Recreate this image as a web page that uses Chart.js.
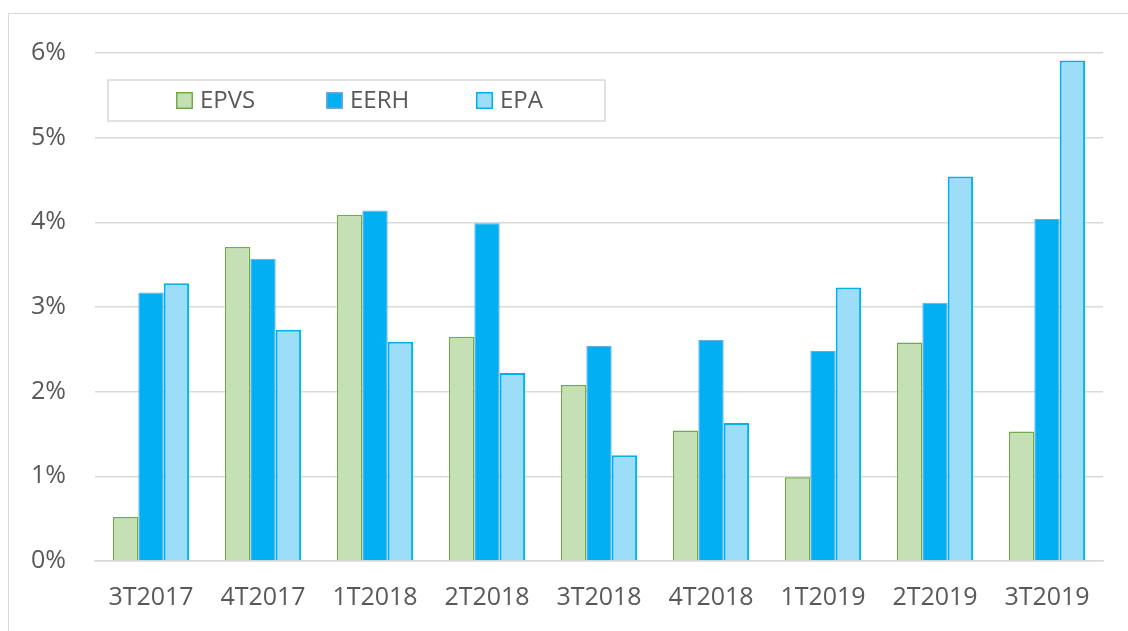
<!DOCTYPE html>
<html>
<head>
<meta charset="utf-8">
<script src="https://cdn.jsdelivr.net/npm/chart.js@4/dist/chart.umd.min.js"></script>
<style>
  html, body { margin: 0; padding: 0; background: #fff; overflow: hidden; }
  #wrap { position: relative; width: 1128px; height: 631px; }
  #frame { position: absolute; left: 8px; top: 13px; width: 1200px; height: 700px; border: 1.5px solid #d9d9d9; box-sizing: border-box; }
  canvas { position: absolute; left: 0; top: 0; }
</style>
</head>
<body>
<div id="wrap">
  <div id="frame"></div>
  <canvas id="c" width="1128" height="631"></canvas>
</div>
<script>
const categories = ['3T2017','4T2017','1T2018','2T2018','3T2018','4T2018','1T2019','2T2019','3T2019'];
const seriesNames = ['EPVS','EERH','EPA'];
const epvs = [0.52, 3.71, 4.09, 2.65, 2.08, 1.54, 0.99, 2.58, 1.53];
const eerh = [3.17, 3.57, 4.14, 3.99, 2.54, 2.61, 2.48, 3.05, 4.04];
const epa  = [3.28, 2.73, 2.59, 2.22, 1.25, 1.63, 3.23, 4.54, 5.91];
const yTicks = [0, 1, 2, 3, 4, 5, 6];

const FONT = "'Open Sans', 'Liberation Sans', sans-serif";
const TXT = '#595959';

const legendBox = {
  id: 'legendBox',
  afterDraw(chart) {
    const ctx = chart.ctx, a = chart.chartArea;
    const x0 = a.left + 13, y0 = a.top + 27, w = 497, h = 41;
    ctx.save();
    ctx.fillStyle = '#fff';
    ctx.fillRect(x0, y0, w, h);
    ctx.strokeStyle = '#d9d9d9';
    ctx.lineWidth = 1.5;
    ctx.strokeRect(x0, y0, w, h);
    ctx.font = '24px ' + FONT;
    ctx.textBaseline = 'middle';
    chart.data.datasets.forEach((ds, i) => {
      const sx = x0 + 68 + i * 150, sy = y0 + 12;
      ctx.fillStyle = ds.backgroundColor;
      ctx.fillRect(sx, sy, 17, 17);
      ctx.strokeStyle = ds.borderColor;
      ctx.lineWidth = 1.5;
      ctx.strokeRect(sx + 0.75, sy + 0.75, 15.5, 15.5);
      ctx.fillStyle = TXT;
      ctx.fillText(ds.label, sx + 24, sy + 9);
    });
    ctx.restore();
  }
};

new Chart(document.getElementById('c'), {
  type: 'bar',
  data: {
    labels: categories,
    datasets: [
      { label: seriesNames[0], data: epvs, backgroundColor: '#C5E0B4', borderColor: '#70AD47', borderWidth: 1.5 },
      { label: seriesNames[1], data: eerh, backgroundColor: '#00B0F0', borderColor: '#6FA8DC', borderWidth: 1 },
      { label: seriesNames[2], data: epa,  backgroundColor: '#9DDDF8', borderColor: '#00B0F0', borderWidth: 2 }
    ]
  },
  options: {
    responsive: false,
    animation: false,
    devicePixelRatio: 1,
    layout: { padding: { left: 0, right: 25, top: 53, bottom: 0 } },
    datasets: { bar: { barPercentage: 1, categoryPercentage: 0.68 } },
    plugins: { legend: { display: false }, tooltip: { enabled: false } },
    scales: {
      x: {
        grid: { display: false, drawTicks: false },
        border: { display: true, color: '#d9d9d9', width: 1.5 },
        ticks: { color: TXT, font: { family: FONT, size: 25 }, padding: 22, maxRotation: 0 },
        afterFit(s) { s.height = 70; }
      },
      y: {
        min: 0, max: 6,
        afterBuildTicks(s) { s.ticks = yTicks.map(v => ({ value: v })); },
        grid: { color: '#d9d9d9', lineWidth: 1.5, drawTicks: false },
        border: { display: false },
        ticks: { color: TXT, font: { family: FONT, size: 25 }, padding: 29, callback: v => v + '%' },
        afterFit(s) { s.width = 95; }
      }
    }
  },
  plugins: [legendBox]
});
</script>
</body>
</html>
